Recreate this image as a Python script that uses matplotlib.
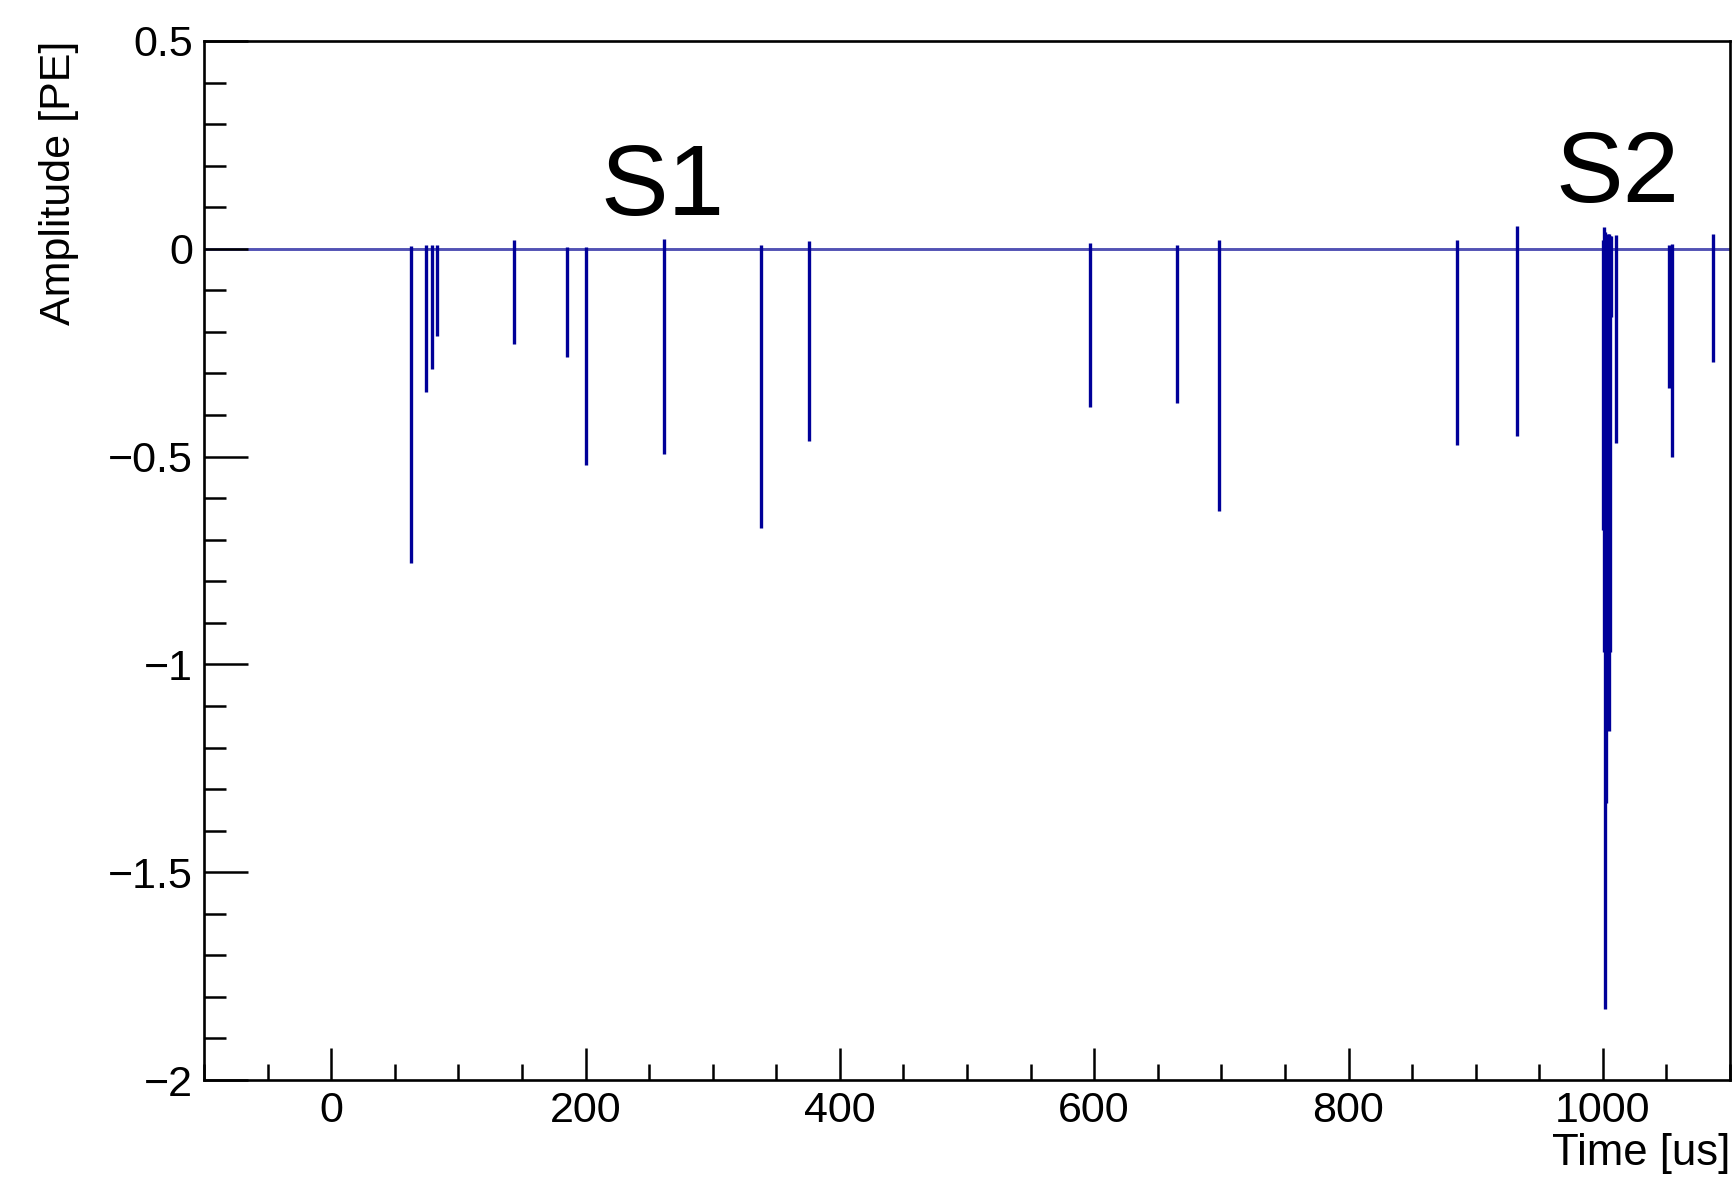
import matplotlib
matplotlib.use("Agg")
import matplotlib.pyplot as plt
from matplotlib.ticker import MultipleLocator, FixedLocator, FixedFormatter

plt.rcParams['font.family'] = ['Liberation Sans', 'DejaVu Sans']

# ---- data: each pulse is drawn as a vertical stroke from its max to its min ----
pulse_time = [62.8, 74.8, 79.5, 83.4, 143.5, 185.2, 200.6, 262.0, 338.0, 375.5,
              596.4, 665.3, 698.4, 885.5, 932.7,
              1000.5, 1001.0, 1001.5, 1002.8, 1004.3, 1005.2, 1005.7, 1006.7, 1010.4,
              1051.7, 1054.6, 1086.6]
pulse_min = [-0.757, -0.344, -0.290, -0.210, -0.229, -0.260, -0.520, -0.494, -0.671, -0.463,
             -0.380, -0.372, -0.631, -0.472, -0.451,
             -0.677, -0.969, -1.830, -1.334, -0.969, -1.160, -0.969, -0.163, -0.468,
             -0.336, -0.502, -0.273]
pulse_max = [0.007, 0.010, 0.010, 0.010, 0.020, 0.004, 0.005, 0.023, 0.010, 0.019,
             0.013, 0.010, 0.021, 0.020, 0.056,
             0.020, 0.052, 0.040, 0.030, 0.036, 0.036, 0.030, 0.030, 0.033,
             0.010, 0.012, 0.036]
baseline_level = 0.0

x_range = [-100, 1100]
y_range = [-2.0, 0.5]
xtick_values = [0, 200, 400, 600, 800, 1000]
xtick_labels = ["0", "200", "400", "600", "800", "1000"]
ytick_values = [-2.0, -1.5, -1.0, -0.5, 0.0, 0.5]
ytick_labels = ["\u22122", "\u22121.5", "\u22121", "\u22120.5", "0", "0.5"]
annotations = [("S1", 211.4, 0.081), ("S2", 962.3, 0.113)]

# ---- figure ----
fig = plt.figure(figsize=(17.34, 11.78), dpi=100)
ax = fig.add_axes([204 / 1734, 1 - 1080 / 1178, (1730 - 204) / 1734, (1080 - 41) / 1178])

wave_color = "#000099"
ax.axhline(baseline_level, color="#5252b4", lw=2.1, zorder=1)
ax.vlines(pulse_time, pulse_min, pulse_max, color=wave_color, lw=2.4, zorder=2)

ax.set_xlim(*x_range)
ax.set_ylim(*y_range)

ax.xaxis.set_major_locator(FixedLocator(xtick_values))
ax.xaxis.set_major_formatter(FixedFormatter(xtick_labels))
ax.yaxis.set_major_locator(FixedLocator(ytick_values))
ax.yaxis.set_major_formatter(FixedFormatter(ytick_labels))
ax.xaxis.set_minor_locator(MultipleLocator(50))
ax.yaxis.set_minor_locator(MultipleLocator(0.1))

ax.tick_params(axis='both', which='both', direction='in', top=False, right=False,
               colors='black', labelsize=31, width=1.8, pad=8)
ax.tick_params(axis='y', which='major', length=32)
ax.tick_params(axis='y', which='minor', length=16)
ax.tick_params(axis='x', which='major', length=23)
ax.tick_params(axis='x', which='minor', length=11.5)

for sp in ax.spines.values():
    sp.set_linewidth(1.9)
    sp.set_color('black')
    sp.set_zorder(5)

ax.text(-0.095, 1.0, "Amplitude [PE]", rotation=90, ha='center', va='top',
        transform=ax.transAxes, fontsize=31)
ax.text(1.0, -0.0818, "Time [us]", ha='right', va='baseline',
        transform=ax.transAxes, fontsize=31.5)

for label, tx, ty in annotations:
    ax.text(tx, ty, label, ha='left', va='baseline', fontsize=73)

fig.savefig("out.png", dpi=100)
